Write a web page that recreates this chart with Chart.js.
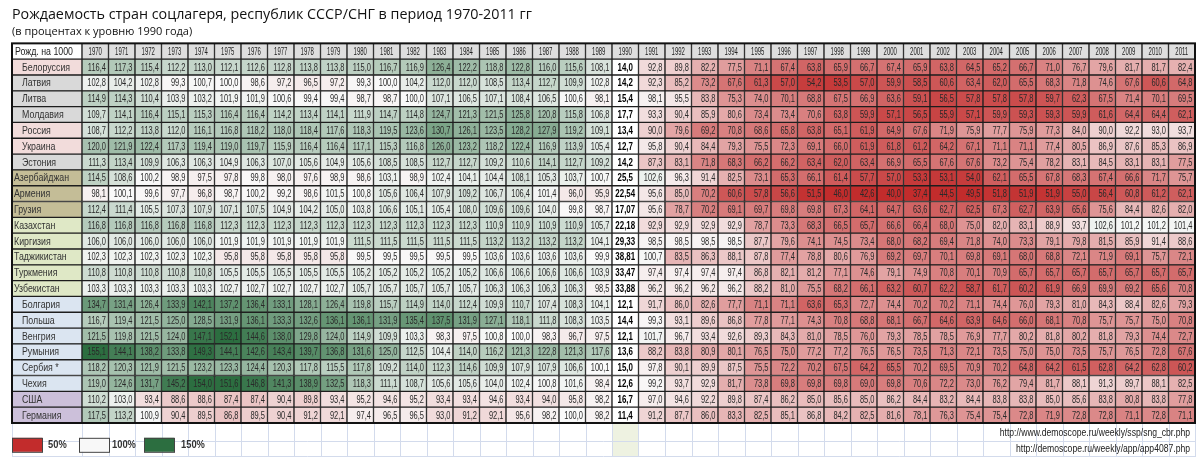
<!DOCTYPE html>
<html>
<head>
<meta charset="utf-8">
<script src="https://cdn.jsdelivr.net/npm/chart.js@4.4.1/dist/chart.umd.min.js"></script>
<style>
html,body{margin:0;padding:0;background:#ffffff;}
canvas{display:block;}
</style>
</head>
<body>
<canvas id="c" width="1200" height="464"></canvas>
<script>
// ---------------- DATA ----------------
const years = ['1970','1971','1972','1973','1974','1975','1976','1977','1978','1979',
  '1980','1981','1982','1983','1984','1985','1986','1987','1988','1989',
  '1990','1991','1992','1993','1994','1995','1996','1997','1998','1999',
  '2000','2001','2002','2003','2004','2005','2006','2007','2008','2009','2010','2011'];
const baseYear = '1990';            // column holding births per 1000 (not %)
const cornerLabel = 'Рожд. на 1000';

const countries = ['Белоруссия','Латвия','Литва','Молдавия','Россия','Украина','Эстония',
  'Азербайджан','Армения','Грузия','Казахстан','Киргизия','Таджикистан','Туркмения','Узбекистан',
  'Болгария','Польша','Венгрия','Румыния','Сербия *','Чехия','США','Германия'];
const regions = ['slav','baltic','baltic','baltic','slav','slav','baltic',
  'caucasus','caucasus','caucasus','asia','asia','asia','asia','asia',
  'east','east','east','east','east','east','west','west'];

const belorussia = [116.4,117.3,115.4,112.2,113.0,112.1,112.6,112.8,113.8,113.8,115.0,116.7,116.9,126.4,122.2,118.8,122.8,116.0,115.6,108.1,14.0,92.8,89.8,82.2,77.5,71.1,67.4,63.8,65.9,66.7,67.4,65.9,63.8,64.5,65.2,66.7,71.0,76.7,79.6,81.7,81.7,82.4];
const latvia = [102.8,104.2,102.8,99.3,100.7,100.0,98.6,97.2,96.5,97.2,99.3,100.0,104.2,112.0,112.0,108.5,113.4,112.7,109.9,102.8,14.2,92.3,85.2,73.2,67.6,61.3,57.0,54.2,53.5,57.0,59.9,58.5,60.6,63.4,62.0,65.5,68.3,71.8,74.6,67.6,60.6,64.8];
const litva = [114.9,114.3,110.4,103.9,103.2,101.9,101.9,100.6,99.4,99.4,98.7,98.7,100.0,107.1,106.5,107.1,108.4,106.5,100.6,98.1,15.4,98.1,95.5,83.8,75.3,74.0,70.1,68.8,67.5,66.9,63.6,59.1,56.5,57.8,57.8,57.8,59.7,62.3,67.5,71.4,70.1,69.5];
const moldavia = [109.7,114.1,116.4,115.1,115.3,116.4,116.4,114.2,113.4,114.1,111.9,114.7,114.8,124.7,121.3,121.5,125.8,120.8,115.8,106.8,17.7,93.3,90.4,85.9,80.6,73.4,73.4,70.6,63.8,59.9,57.1,56.5,55.9,57.1,59.9,59.3,59.3,59.9,61.6,64.4,64.4,62.1];
const rossiya = [108.7,112.2,113.8,112.0,116.1,116.8,118.2,118.0,118.4,117.6,118.3,119.5,123.6,130.7,126.1,123.5,128.2,127.9,119.2,109.1,13.4,90.0,79.6,69.2,70.8,68.6,65.8,63.8,65.1,61.9,64.9,67.6,71.9,75.9,77.7,75.9,77.3,84.0,90.0,92.2,93.0,93.7];
const ukraina = [120.0,121.9,122.4,117.3,119.4,119.0,119.7,115.9,116.4,116.4,117.1,115.3,116.8,126.0,123.2,118.2,122.4,116.9,113.9,105.4,12.7,95.8,90.4,84.4,79.3,75.5,72.3,69.1,66.0,61.9,61.8,61.2,64.2,67.1,71.1,71.1,77.4,80.5,86.9,87.6,85.3,86.9];
const estonia = [111.3,113.4,109.9,106.3,106.3,104.9,106.3,107.0,105.6,104.9,105.6,108.5,108.5,112.7,112.7,109.2,110.6,114.1,112.7,109.2,14.2,87.3,83.1,71.8,68.3,66.2,66.2,63.4,62.0,63.4,66.9,65.5,67.6,67.6,73.2,75.4,78.2,83.1,84.5,83.1,83.1,77.5];
const azerbaijan = [114.5,108.6,100.2,98.9,97.5,97.8,99.8,98.0,97.6,98.9,98.6,103.1,98.9,102.4,104.1,104.4,108.1,105.3,103.7,100.7,25.5,102.6,96.3,91.4,82.5,73.1,65.3,66.1,61.4,57.7,57.0,53.3,53.1,54.0,62.1,65.5,67.8,68.3,67.4,66.6,71.7,75.7];
const armenia = [98.1,100.1,99.6,97.7,96.8,98.7,100.2,99.2,98.6,101.5,100.8,105.6,106.4,107.9,109.2,106.7,106.4,101.4,96.0,95.9,22.54,95.6,85.0,70.2,60.6,57.8,56.6,51.5,46.0,42.6,40.0,37.4,44.5,49.5,51.8,51.9,51.9,55.0,56.4,60.8,61.2,62.1];
const gruziya = [112.4,111.4,105.5,107.3,107.9,107.1,107.5,104.9,104.2,105.0,103.8,106.6,105.1,105.4,108.0,109.6,109.6,104.0,99.8,98.7,17.07,95.6,78.7,70.2,69.1,69.7,69.8,69.8,67.3,64.1,64.7,63.6,62.7,62.5,67.3,62.7,63.9,65.6,75.6,84.4,82.6,82.0];
const kazakhstan = [116.8,116.8,116.8,116.8,116.8,112.3,112.3,112.3,112.3,112.3,112.3,112.3,112.3,112.3,112.3,110.9,110.9,110.9,110.9,105.7,22.18,92.9,92.9,92.9,92.9,78.7,73.3,68.3,66.5,65.7,66.6,66.4,68.0,75.0,82.0,83.1,88.9,93.7,102.6,101.2,101.2,101.4];
const kirgiziya = [106.0,106.0,106.0,106.0,106.0,101.9,101.9,101.9,101.9,101.9,111.5,111.5,111.5,111.5,111.5,113.2,113.2,113.2,113.2,104.1,29.33,98.5,98.5,98.5,98.5,87.7,79.6,74.1,74.5,73.4,68.0,68.2,69.4,71.8,74.0,73.3,79.1,79.8,81.5,85.9,91.4,88.6];
const tajikistan = [102.3,102.3,102.3,102.3,102.3,95.8,95.8,95.8,95.8,95.8,99.5,99.5,99.5,99.5,99.5,103.6,103.6,103.6,103.6,99.9,38.81,100.7,83.5,86.3,88.1,87.8,77.4,78.8,80.6,76.9,69.2,69.7,70.1,69.8,69.1,68.0,68.8,72.1,71.9,69.1,75.7,72.1];
const turkmenia = [110.8,110.8,110.8,110.8,110.8,105.5,105.5,105.5,105.5,105.5,105.2,105.2,105.2,105.2,105.2,106.6,106.6,106.6,106.6,103.9,33.47,97.4,97.4,97.4,97.4,86.8,82.1,81.2,77.1,74.6,79.1,74.9,70.8,70.1,70.9,65.7,65.7,65.7,65.7,65.7,65.7,65.7];
const uzbekistan = [103.3,103.3,103.3,103.3,103.3,102.7,102.7,102.7,102.7,102.7,105.7,105.7,105.7,105.7,105.7,106.3,106.3,106.3,106.3,98.5,33.88,96.2,96.2,96.2,96.2,88.2,81.0,75.5,68.2,66.1,63.2,60.7,62.2,58.7,61.7,60.2,61.9,66.9,69.9,69.2,65.6,70.8];
const bulgaria = [134.7,131.4,126.4,133.9,142.1,137.2,136.4,133.1,128.1,126.4,119.8,115.7,114.9,114.0,112.4,109.9,110.7,107.4,108.3,104.1,12.1,91.7,86.0,82.6,77.7,71.1,71.1,63.6,65.3,72.7,74.4,70.2,70.2,71.1,74.4,76.0,79.3,81.0,84.3,88.4,82.6,79.3];
const polsha = [116.7,119.4,121.5,125.0,128.5,131.9,136.1,133.3,132.6,136.1,136.1,131.9,135.4,137.5,131.9,127.1,118.1,111.8,108.3,103.5,14.4,99.3,93.1,89.6,86.8,77.8,77.1,74.3,70.8,68.8,68.1,66.7,64.6,63.9,64.6,66.0,68.1,70.8,75.7,75.7,75.0,70.8];
const vengriya = [121.5,119.8,121.5,124.0,147.1,152.1,144.6,138.0,129.8,124.0,114.9,109.9,103.3,98.3,97.5,100.8,100.0,98.3,96.7,97.5,12.1,101.7,96.7,93.4,92.6,89.3,84.3,81.0,78.5,76.0,79.3,78.5,78.5,76.9,77.7,80.2,81.8,80.2,81.8,79.3,74.4,72.7];
const rumyniya = [155.1,144.1,138.2,133.8,149.3,144.1,142.6,143.4,139.7,136.8,131.6,125.0,112.5,104.4,114.0,116.2,121.3,122.8,121.3,117.6,13.6,88.2,83.8,80.9,80.1,76.5,75.0,77.2,77.2,76.5,76.5,73.5,71.3,72.1,73.5,75.0,75.0,73.5,75.7,76.5,72.8,67.6];
const serbiya = [118.2,120.3,121.9,121.5,123.2,123.3,124.4,120.3,117.8,115.5,117.8,109.2,114.0,112.3,114.6,109.9,107.9,107.9,106.6,100.1,15.0,97.8,90.1,89.9,87.5,75.5,72.2,70.2,67.5,64.2,65.5,70.2,69.5,70.9,70.2,64.8,64.2,61.5,62.8,64.2,62.8,60.2];
const chekhiya = [119.0,124.6,131.7,145.2,154.0,151.6,146.8,141.3,138.9,132.5,118.3,111.1,108.7,105.6,105.6,104.0,102.4,100.8,101.6,98.4,12.6,99.2,93.7,92.9,81.7,73.8,69.8,69.8,69.8,69.0,69.8,70.6,72.2,73.0,76.2,79.4,81.7,88.1,91.3,89.7,88.1,82.5];
const usa = [110.2,103.0,93.4,88.6,88.6,87.4,87.4,90.4,89.8,93.4,95.2,94.6,95.2,93.4,93.4,94.6,93.4,94.0,95.8,98.2,16.7,97.0,94.6,92.2,89.8,87.4,86.2,85.0,85.6,85.0,86.2,84.4,83.2,84.4,83.8,83.8,85.0,85.6,83.8,80.8,83.8,77.8];
const germaniya = [117.5,113.2,100.9,90.4,89.5,86.8,89.5,90.4,91.2,92.1,97.4,96.5,96.5,93.0,91.2,92.1,95.6,98.2,100.0,98.2,11.4,91.2,87.7,86.0,83.3,82.5,85.1,86.8,84.2,82.5,81.6,78.1,76.3,75.4,75.4,72.8,71.9,72.8,72.8,71.1,72.8,71.1];

const seriesList = [belorussia,latvia,litva,moldavia,rossiya,ukraina,estonia,azerbaijan,armenia,gruziya,
  kazakhstan,kirgiziya,tajikistan,turkmenia,uzbekistan,bulgaria,polsha,vengriya,rumyniya,serbiya,chekhiya,usa,germaniya];

const legendStops = [50, 100, 150];
const sources = ['http://www.demoscope.ru/weekly/ssp/sng_cbr.php', 'http://demoscope.ru/weekly/app/app4087.php'];

// ---------------- STYLE ----------------
const FONT = '"Liberation Sans", Arial, sans-serif';
const LABEL_COL = -70 / 26.5;   // width of label column in year-column units
const EXTRA_ROWS = 2.15;        // spreadsheet rows shown under the table
const regionStyle = {
  slav:     { bg: '#f2dcdb', indent: 10 },
  baltic:   { bg: '#d9d9d9', indent: 10 },
  caucasus: { bg: '#c4bd97', indent: 2 },
  asia:     { bg: '#dfe8c6', indent: 2 },
  east:     { bg: '#dbe5f1', indent: 10 },
  west:     { bg: '#ccc0da', indent: 10 }
};
const WHITE = [249, 249, 249], RED = [194, 44, 44], GREEN = [44, 110, 64];
function heat(v) {
  const t = Math.max(-1, Math.min(1, (v - legendStops[1]) / (legendStops[2] - legendStops[1])));
  const c = t < 0 ? RED : GREEN, a = Math.abs(t);
  const m = WHITE.map((w, i) => Math.round(w + (c[i] - w) * a));
  return `rgb(${m[0]},${m[1]},${m[2]})`;
}
function fmt(v, two) {
  let s = v.toFixed(2);
  if (!two || s.endsWith('0')) s = v.toFixed(1);
  return s.replace('.', ',');
}

// ---------------- CELLS ----------------
const baseIdx = years.indexOf(baseYear);
const cells = [], cellBg = [], cellInfo = [];
cells.push({ x: [LABEL_COL, 0], y: 0 }); cellBg.push('#ffffff');
cellInfo.push({ kind: 'corner', text: cornerLabel });
years.forEach((yr, j) => {
  cells.push({ x: [j, j + 1], y: 0 }); cellBg.push('#dedede');
  cellInfo.push({ kind: 'year', text: yr });
});
countries.forEach((name, i) => {
  const st = regionStyle[regions[i]];
  cells.push({ x: [LABEL_COL, 0], y: i + 1 }); cellBg.push(st.bg);
  cellInfo.push({ kind: 'label', text: name, indent: st.indent });
  seriesList[i].forEach((v, j) => {
    cells.push({ x: [j, j + 1], y: i + 1 });
    if (j === baseIdx) {
      cellBg.push('#ffffff'); cellInfo.push({ kind: 'base', text: fmt(v, true) });
    } else {
      cellBg.push(heat(v)); cellInfo.push({ kind: 'value', text: fmt(v, false) });
    }
  });
});

function drawText(ctx, str, x, y, font, sx, align, color) {
  ctx.save();
  ctx.font = font; ctx.fillStyle = color; ctx.textBaseline = 'middle'; ctx.textAlign = align;
  ctx.translate(x, y); ctx.scale(sx, 1);
  ctx.fillText(str, 0, 0);
  ctx.restore();
}

const tablePlugin = {
  id: 'tableDecor',
  beforeDatasetsDraw(chart) {
    const ctx = chart.ctx, xs = chart.scales.x, ys = chart.scales.y;
    const top = ys.getPixelForValue(countries.length + 0.5), bot = ys.getPixelForValue(countries.length + 0.5 + EXTRA_ROWS);
    ctx.save();
    // selected column tint
    ctx.fillStyle = '#eef2e1';
    ctx.fillRect(xs.getPixelForValue(baseIdx), top, xs.getPixelForValue(baseIdx + 1) - xs.getPixelForValue(baseIdx), bot - top);
    ctx.strokeStyle = '#d3dbec'; ctx.lineWidth = 1;
    const cols = [LABEL_COL].concat(years.map((_, j) => j), [years.length]);
    cols.forEach(c => {
      const px = Math.round(xs.getPixelForValue(c)) + 0.5;
      ctx.beginPath(); ctx.moveTo(px, top); ctx.lineTo(px, bot); ctx.stroke();
    });
    [countries.length + 1.64, countries.length + 0.5 + EXTRA_ROWS - 0.05].forEach(r => {
      const py = Math.round(ys.getPixelForValue(r)) + 0.5;
      ctx.beginPath(); ctx.moveTo(xs.getPixelForValue(LABEL_COL), py); ctx.lineTo(xs.getPixelForValue(years.length), py); ctx.stroke();
    });
    ctx.restore();
  },
  afterDatasetsDraw(chart) {
    const ctx = chart.ctx, xs = chart.scales.x, ys = chart.scales.y;
    const meta = chart.getDatasetMeta(0);
    meta.data.forEach((el, k) => {
      const info = cellInfo[k];
      const p = el.getProps(['x', 'y', 'base'], true);
      const left = Math.min(p.x, p.base), right = Math.max(p.x, p.base);
      const cy = p.y + 0.5;
      if (info.kind === 'value') drawText(ctx, info.text, right - 2.5, cy, `11px ${FONT}`, 0.68, 'right', '#2a2a2a');
      else if (info.kind === 'base') drawText(ctx, info.text, (left + right) / 2, cy, `bold 11px ${FONT}`, 0.72, 'center', '#000');
      else if (info.kind === 'year') drawText(ctx, info.text, (left + right) / 2, cy, `10px ${FONT}`, 0.6, 'center', '#222');
      else if (info.kind === 'label') drawText(ctx, info.text, left + info.indent, cy, `11px ${FONT}`, 0.8, 'left', '#333');
      else drawText(ctx, info.text, left + 3, cy, `11px ${FONT}`, 0.8, 'left', '#222');
    });
    // outer border
    const x0 = xs.getPixelForValue(LABEL_COL), x1 = xs.getPixelForValue(years.length);
    const y0 = ys.getPixelForValue(-0.5), y1 = ys.getPixelForValue(countries.length + 0.5);
    ctx.save();
    ctx.strokeStyle = '#111'; ctx.lineWidth = 2;
    ctx.strokeRect(x0, y0, x1 - x0, y1 - y0);
    ctx.restore();
    // colour legend
    const ly = ys.getPixelForValue(countries.length + 1.88);
    const stops = [
      { v: legendStops[0], dx: 0, tdx: 36 },
      { v: legendStops[1], dx: 67, tdx: 100 },
      { v: legendStops[2], dx: 132, tdx: 169 }
    ];
    stops.forEach(s => {
      ctx.save();
      ctx.fillStyle = s.v === legendStops[1] ? '#f8f8f8' : heat(s.v);
      ctx.fillRect(x0 + s.dx, ly - 7, 30, 14);
      ctx.strokeStyle = '#444'; ctx.lineWidth = 1;
      ctx.strokeRect(x0 + s.dx + 0.5, ly - 7 + 0.5, 30, 14);
      ctx.restore();
      drawText(ctx, s.v + '%', x0 + s.tdx, ly + 0.5, `bold 11px ${FONT}`, 0.85, 'left', '#333');
    });
    // sources
    drawText(ctx, sources[0], x1 - 5, ys.getPixelForValue(countries.length + 1.13), `10px ${FONT}`, 0.86, 'right', '#222');
    drawText(ctx, sources[1], x1 - 5, ys.getPixelForValue(countries.length + 2.15), `10px ${FONT}`, 0.86, 'right', '#222');
  }
};

new Chart(document.getElementById('c'), {
  type: 'bar',
  data: {
    datasets: [{
      data: cells,
      backgroundColor: cellBg,
      borderColor: '#1e1e1e',
      borderWidth: 1,
      borderSkipped: false,
      barPercentage: 1,
      categoryPercentage: 1
    }]
  },
  options: {
    indexAxis: 'y',
    responsive: false,
    animation: false,
    events: [],
    layout: { padding: { left: 12, right: 5, top: 0, bottom: 7 } },
    scales: {
      x: { type: 'linear', min: LABEL_COL, max: years.length, display: false, offset: false },
      y: {
        type: 'linear', reverse: true, min: -0.5, max: countries.length + 0.5 + EXTRA_ROWS, display: false,
        offset: false, grid: { offset: false },
        afterBuildTicks: s => { s.ticks = [{ value: 0 }].concat(countries.map((_, i) => ({ value: i + 1 }))); }
      }
    },
    plugins: {
      legend: { display: false },
      tooltip: { enabled: false },
      title: {
        display: true, align: 'start', color: '#111',
        text: 'Рождаемость стран соцлагеря, республик СССР/СНГ в период 1970-2011 гг',
        font: { family: '"Open Sans", Arial, sans-serif', size: 14.3, weight: 'normal', lineHeight: 1.2 },
        padding: { top: 6, bottom: 0 }
      },
      subtitle: {
        display: true, align: 'start', color: '#111',
        text: '(в процентах к уровню 1990 года)',
        font: { family: '"Open Sans", Arial, sans-serif', size: 11, weight: 'normal', lineHeight: 1.2 },
        padding: { top: 2, bottom: 5 }
      }
    }
  },
  plugins: [tablePlugin]
});
</script>
</body>
</html>
